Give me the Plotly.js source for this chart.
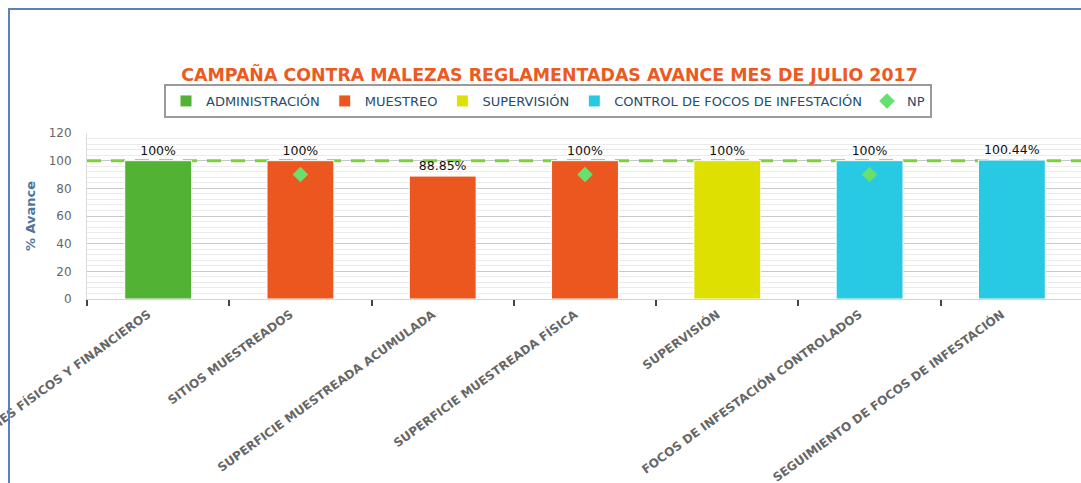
<!DOCTYPE html>
<html>
<head>
<meta charset="utf-8">
<script src="https://cdn.plot.ly/plotly-3.0.1.min.js"></script>
<style>
  html, body { margin: 0; padding: 0; background: #ffffff; overflow: hidden; width: 1081px; height: 483px; }
  #chart { position: absolute; left: 0; top: 0; width: 1090px; height: 483px; }
  #frame { position: absolute; left: 8px; top: 8px; width: 1200px; height: 600px;
           border-left: 2px solid #5b7fbf; border-top: 2px solid #5b7fbf; pointer-events: none; }
</style>
</head>
<body>
<div id="chart"></div>
<div id="frame"></div>
<script>
// ---- data ----
const categories = [
  "INFORMES FÍSICOS Y FINANCIEROS",
  "SITIOS MUESTREADOS",
  "SUPERFICIE MUESTREADA ACUMULADA",
  "SUPERFICIE MUESTREADA FÍSICA",
  "SUPERVISIÓN",
  "FOCOS DE INFESTACIÓN CONTROLADOS",
  "SEGUIMIENTO DE FOCOS DE INFESTACIÓN"
];

const adminCats = ["INFORMES FÍSICOS Y FINANCIEROS"];
const adminValues = [100];

const muestreoCats = ["SITIOS MUESTREADOS", "SUPERFICIE MUESTREADA ACUMULADA", "SUPERFICIE MUESTREADA FÍSICA"];
const muestreoValues = [100, 88.85, 100];

const supervisionCats = ["SUPERVISIÓN"];
const supervisionValues = [100];

const controlCats = ["FOCOS DE INFESTACIÓN CONTROLADOS", "SEGUIMIENTO DE FOCOS DE INFESTACIÓN"];
const controlValues = [100, 100.44];

const npCats = ["SITIOS MUESTREADOS", "SUPERFICIE MUESTREADA FÍSICA", "FOCOS DE INFESTACIÓN CONTROLADOS"];
const npValues = [90, 90, 90];

const targetValue = 100;
const yTicks = [0, 20, 40, 60, 80, 100, 120];

const titleText = "CAMPAÑA CONTRA MALEZAS REGLAMENTADAS AVANCE MES DE JULIO 2017";
const yTitle = "% Avance";

// ---- chart ----
const FONT = "DejaVu Sans, Verdana, sans-serif";
const barWidth = 0.47;

function barTrace(name, x, y, color) {
  return {
    type: "bar", name: name, x: x, y: y,
    xaxis: "x2", yaxis: "y",
    width: x.map(() => barWidth),
    marker: { color: color, line: { color: "#ffffff", width: 1 } },
    texttemplate: "%{y}%",
    textposition: "outside",
    textfont: { family: FONT, size: 12.5, color: "#111111" },
    cliponaxis: false,
    hoverinfo: "skip"
  };
}

const traces = [
  // target (plot line) drawn on the hidden linear axis underneath the bars
  {
    type: "scatter", mode: "lines", name: "Meta",
    x: [0, 1], y: [targetValue, targetValue],
    xaxis: "x", yaxis: "y",
    line: { color: "#7fd13b", width: 3, dash: "14px,10px" },
    showlegend: false, hoverinfo: "skip", cliponaxis: true
  },
  barTrace("ADMINISTRACIÓN", adminCats, adminValues, "#52b234"),
  barTrace("MUESTREO", muestreoCats, muestreoValues, "#eb571e"),
  barTrace("SUPERVISIÓN", supervisionCats, supervisionValues, "#dde000"),
  barTrace("CONTROL DE FOCOS DE INFESTACIÓN", controlCats, controlValues, "#27c9e3"),
  {
    type: "scatter", mode: "markers", name: "NP",
    x: npCats, y: npValues,
    xaxis: "x2", yaxis: "y",
    marker: { symbol: "diamond", size: 12, color: "#66e070" },
    hoverinfo: "skip"
  }
];

const W = 1090, H = 483;
const layout = {
  width: W, height: H,
  paper_bgcolor: "#ffffff", plot_bgcolor: "#ffffff",
  margin: { l: 87, r: 7, t: 133, b: 184, pad: 0 },
  barmode: "overlay",
  showlegend: true,
  font: { family: FONT },
  title: {
    text: titleText,
    font: { family: FONT, size: 17.4, color: "#eb5a1e", weight: "bold" },
    xref: "container", x: 549.5 / W, xanchor: "center",
    yref: "container", y: 1 - 75 / H, yanchor: "middle"
  },
  legend: {
    orientation: "h",
    x: (548 - 87) / 996, xanchor: "center",
    y: (299 - 101) / 166, yanchor: "middle",
    bordercolor: "#9a9a9a", borderwidth: 2,
    bgcolor: "#ffffff",
    font: { family: FONT, size: 13, color: "#274b6d" },
    traceorder: "normal"
  },
  xaxis: {
    type: "linear", range: [0, 1], visible: false,
    showgrid: false, zeroline: false, fixedrange: true, automargin: false
  },
  xaxis2: {
    type: "category",
    overlaying: "x", anchor: "y", side: "bottom",
    categoryorder: "array", categoryarray: categories,
    range: [-0.5, categories.length - 0.5],
    tickson: "boundaries",
    ticks: "outside", ticklen: 6, tickwidth: 2, tickcolor: "#444444",
    tickangle: -36,
    ticklabelshift: -10,
    ticklabelstandoff: 3,
    tickfont: { family: FONT, size: 12, color: "#666666", weight: "bold" },
    showgrid: false,
    showline: true, linecolor: "#ccd6eb", linewidth: 1,
    automargin: false, fixedrange: true
  },
  yaxis: {
    range: [0, 120],
    tickvals: yTicks,
    tickfont: { family: FONT, size: 12, color: "#666666" },
    ticks: "", ticklabelstandoff: 12,
    showgrid: true, gridcolor: "#c8c8c8", gridwidth: 1,
    minor: { dtick: 4, showgrid: true, gridcolor: "#ebebeb", gridwidth: 1, ticks: "" },
    zeroline: false,
    showline: true, linecolor: "#dcdcdc", linewidth: 1,
    title: { text: yTitle, font: { family: FONT, size: 13, color: "#4d759e", weight: "bold" }, standoff: 10 },
    automargin: false, fixedrange: true
  }
};

Plotly.newPlot("chart", traces, layout, { displayModeBar: false, staticPlot: true });
</script>
</body>
</html>
